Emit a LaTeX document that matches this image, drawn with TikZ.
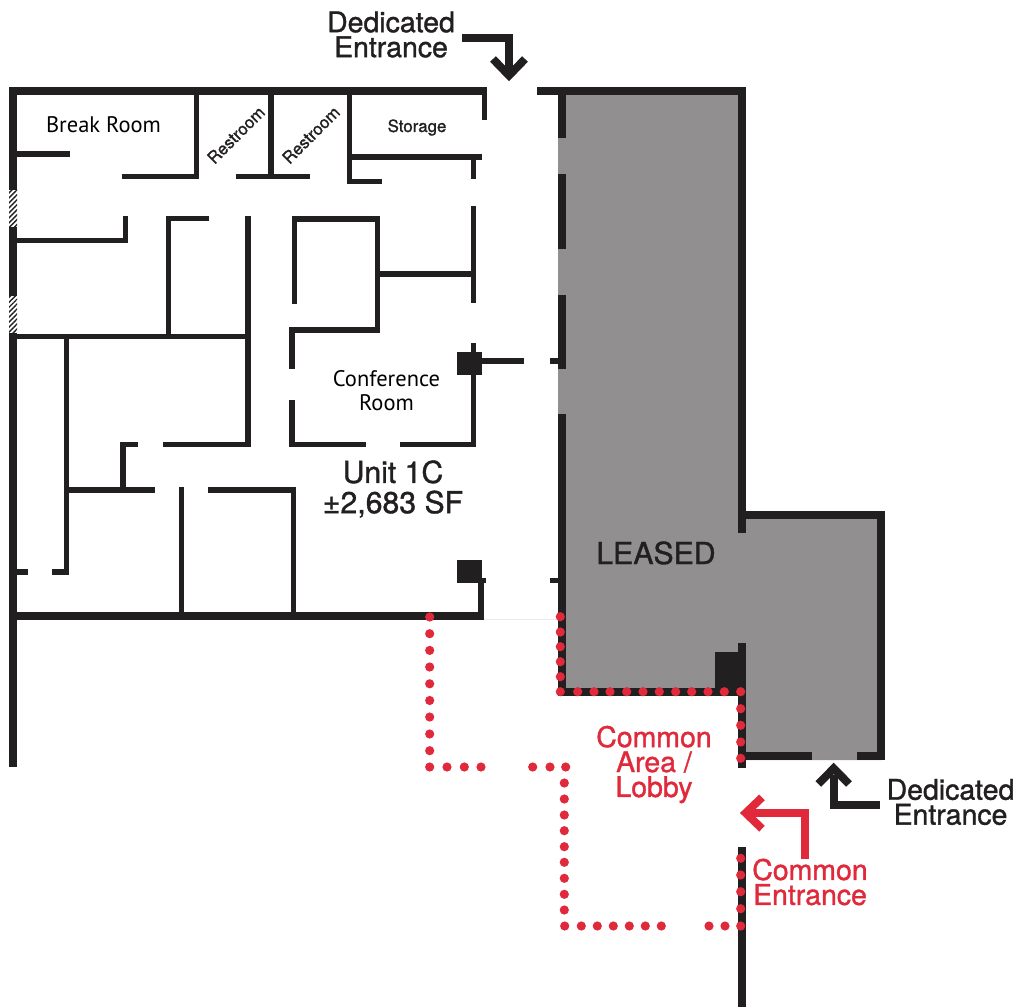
\documentclass[tikz,border=0pt]{standalone}
\usepackage{fontspec}
\setmainfont{TeX Gyre Heros}
\newfontfamily\callfont[FakeBold=1.2]{TeX Gyre Heros}
\newfontfamily\roomfont{PT Sans}
\usetikzlibrary{patterns.meta}
\definecolor{wallblack}{HTML}{221F20}
\definecolor{leasedgray}{HTML}{918F90}
\definecolor{lobbyred}{HTML}{E02A3B}
\tikzset{
  outerwall/.style={draw=wallblack,line width=0.16cm},
  innerwall/.style={draw=wallblack,line width=0.105cm},
  callarrow/.style={line width=0.16cm},
  hatchwall/.style={pattern={Lines[angle=45,distance=2pt,line width=0.8pt]},pattern color=wallblack},
  calltext/.style={font=\callfont\fontsize{16.2}{14.2}\selectfont,align=center},
  unittext/.style={font=\callfont\fontsize{17.2}{17.2}\selectfont,align=center,text=wallblack},
  roomtext/.style={font=\roomfont\fontsize{12.8}{13.7}\selectfont,align=center},
  smalltext/.style={font=\callfont\fontsize{9.6}{11}\selectfont,text=wallblack}
}
\begin{document}
\begin{tikzpicture}[x=0.02cm,y=-0.02cm]
  \useasboundingbox (0,0) rectangle (1019,1007);
  \fill[leasedgray] (558,95) -- (741,95) -- (741,515) -- (881,515) -- (881,760) -- (741,760) -- (741,691) -- (558,691) -- cycle;
  \draw[black!8,line width=0.01cm] (483,619.5) -- (557,619.5);

  % unit 1C shell
  \draw[outerwall] (13,190) -- (13,91) -- (487,91);
  \draw[outerwall] (13,227) -- (13,296);
  \draw[outerwall] (13,333) -- (13,767);
  \draw[outerwall] (9,615.5) -- (483.5,615.5);
  \fill[hatchwall] (9,190) rectangle (17,227);
  \fill[hatchwall] (9,296) rectangle (17,333);
  \draw[innerwall] (484.7,91) -- (484.7,120);

  % top rooms
  \draw[innerwall] (17,154) -- (70,154);
  \draw[innerwall] (122,176.5) -- (196.5,176.5) -- (196.5,95);
  \draw[innerwall] (271,95) -- (271,179);
  \draw[innerwall] (236,176.5) -- (310,176.5);
  \draw[innerwall] (349.5,95) -- (349.5,181.5) -- (382,181.5);
  \draw[innerwall] (352,157) -- (482,157);
  \draw[innerwall] (473.5,157) -- (473.5,179);
  \draw[innerwall] (473.5,206) -- (473.5,303);
  \draw[innerwall] (378,274) -- (473.5,274);
  \draw[innerwall] (294.5,304) -- (294.5,219) -- (377.5,219) -- (377.5,330) -- (292,330) -- (292,369);
  \draw[innerwall] (17,240.5) -- (125.5,240.5) -- (125.5,216);
  \draw[innerwall] (209,218.5) -- (168.5,218.5) -- (168.5,336.5);
  \draw[innerwall] (248,216) -- (248,444.5) -- (163,444.5);
  \draw[innerwall] (17,336.5) -- (248,336.5);

  % lower rooms
  \draw[innerwall] (66.5,336.5) -- (66.5,572) -- (52,572);
  \draw[innerwall] (17,572) -- (28,572);
  \draw[innerwall] (138,444.5) -- (123,444.5) -- (123,490);
  \draw[innerwall] (66.5,490) -- (155,490);
  \draw[innerwall] (181.5,487) -- (181.5,612);
  \draw[innerwall] (208,490) -- (293.5,490) -- (293.5,612);

  % conference room
  \draw[innerwall] (292,400) -- (292,444.5) -- (366,444.5);
  \draw[innerwall] (400,444.5) -- (473.5,444.5) -- (473.5,343);
  \draw[innerwall] (482,361) -- (524,361);
  \fill[wallblack] (457.3,352) rectangle (482.4,375);

  % corner column
  \fill[wallblack] (457,560) rectangle (481.7,583);
  \draw[innerwall] (481,583) -- (481,612);
  \draw[innerwall] (481,580.5) -- (486,580.5);

  % stubs on the party wall
  \draw[innerwall] (550,361) -- (558,361);
  \draw[innerwall] (550,580.5) -- (558,580.5);

  % leased unit
  \draw[outerwall] (537,91) -- (741.7,91) -- (741.7,533);
  \draw[outerwall] (561.5,91) -- (561.5,138);
  \draw[outerwall] (561.5,174) -- (561.5,249);
  \draw[outerwall] (561.5,295) -- (561.5,369);
  \draw[outerwall] (561.5,414) -- (561.5,691.5);
  \draw[outerwall] (557.5,691.5) -- (745.7,691.5);
  \draw[outerwall] (741.7,643) -- (741.7,768);
  \draw[outerwall] (745,756.3) -- (812,756.3);
  \draw[outerwall] (857.3,756.3) -- (881.3,756.3) -- (881.3,515) -- (738,515);
  \fill[wallblack] (715,652) rectangle (745,688);
  \draw[outerwall] (741.7,847) -- (741.7,1007);

  % entrance arrows
  \draw[callarrow,wallblack] (462,38) -- (509.2,38) -- (509.2,70);
  \draw[callarrow,wallblack] (493,59) -- (509,75.5) -- (525,59);
  \draw[callarrow,wallblack] (880.3,805) -- (833.7,805) -- (833.7,775);
  \draw[callarrow,wallblack] (818.3,784) -- (833.7,768.4) -- (849,784);
  \draw[callarrow,lobbyred] (804.7,859.3) -- (804.7,812.8) -- (750,812.8);
  \draw[callarrow,lobbyred] (762,797.4) -- (745.7,813) -- (762,828.7);

  % path to the lobby
  \foreach \dotx/\doty in {429.7/617,429.7/633.7,429.7/650.4,429.7/667,429.7/683.8,429.7/700.5,429.7/717,429.7/734,429.7/750.7,429.7/767,
      447/767,464.3/767,481/767,532.7/767,550/767,565.7/767,
      564.3/783,564.3/799,564.3/815,564.3/830.7,564.3/846.7,564.3/862.3,564.3/878.3,564.3/894.3,564.3/910,564.7/926,
      581.3/926,597.3/926,613.3/926,629.3/926,645.3/926,661.3/926,709/926,725/926,740.7/926,
      740.7/908.7,740.7/891.7,740.7/875,740.7/858.3,
      560.3/616.7,560.3/632,560.3/646.7,560.3/661.7,560.3/676.7,560.3/691.7,
      577.7/691.7,594/691.7,610/691.7,626.7/691.7,643/691.7,659.3/691.7,675.7/691.7,691.7/691.7,708/691.7,724.3/691.7,740.7/691.7,
      740.7/708.7,740.7/725.3,740.7/742,740.7/758.3}
    \fill[lobbyred] (\dotx,\doty) circle (4.6);

  \node[calltext,text=wallblack] (dedicatedtop) at (391,34.5) {Dedicated\\Entrance};
  \node[calltext,text=wallblack] (dedicatedright) at (950.5,802) {Dedicated\\Entrance};
  \node[calltext,text=lobbyred] (lobby) at (654,764.5) {Common\\Area /\\Lobby};
  \node[calltext,text=lobbyred] (commonentrance) at (810,882) {Common\\Entrance};
  \node[unittext] (unit) at (393,489) {Unit 1C\\±2,683 SF};
  \node[unittext,anchor=base] (leased) at (656,564) {LEASED};
  \node[roomtext,anchor=base] (breakroom) at (103.5,132.7) {Break Room};
  \node[roomtext] (conference) at (386.5,391) {Conference\\Room};
  \node[smalltext,anchor=base] (storage) at (417,132) {Storage};
  \node[smalltext,rotate=45] (restroomone) at (236,135) {Restroom};
  \node[smalltext,rotate=45] (restroomtwo) at (311,135) {Restroom};
\end{tikzpicture}
\end{document}
